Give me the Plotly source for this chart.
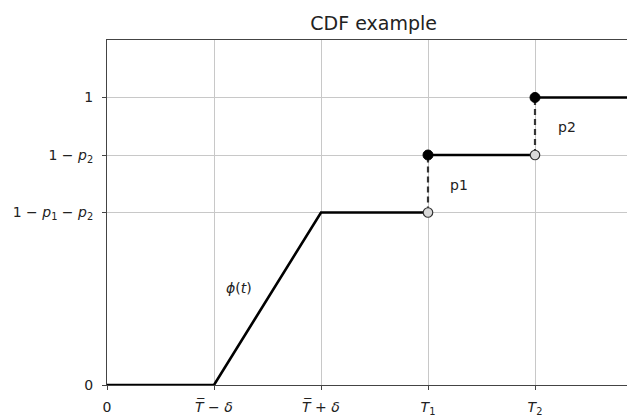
import plotly.graph_objects as go

# ---- data ----
x_tick_vals = [0, 1, 2, 3, 4]
x_tick_text = ["0", "<i>T̅</i> − <i>δ</i>", "<i>T̅</i> + <i>δ</i>", "<i>T</i><sub>1</sub>", "<i>T</i><sub>2</sub>"]
y_tick_vals = [0, 0.6, 0.8, 1.0]
y_tick_text = ["0", "1 − <i>p</i><sub>1</sub> − <i>p</i><sub>2</sub>", "1 − <i>p</i><sub>2</sub>", "1"]

ramp_x = [0, 1, 2, 3]
ramp_y = [0, 0, 0.6, 0.6]
step1_x = [3, 4]
step1_y = [0.8, 0.8]
step2_x = [4, 5]
step2_y = [1.0, 1.0]
jump_x = [3, 4]
jump_low = [0.6, 0.8]
jump_high = [0.8, 1.0]

labels_text = ["<i>ϕ</i>(<i>t</i>)", "p1", "p2"]
labels_x = [1.23, 3.29, 4.30]
labels_y = [0.337, 0.695, 0.896]

FONT = "DejaVu Sans"
OFF = 8  # page body margin

fig = go.Figure()
line_style = dict(color="black", width=2.6)
fig.add_trace(go.Scatter(x=ramp_x, y=ramp_y, mode="lines", line=line_style, showlegend=False))
fig.add_trace(go.Scatter(x=step1_x, y=step1_y, mode="lines", line=line_style, showlegend=False))
fig.add_trace(go.Scatter(x=step2_x, y=step2_y, mode="lines", line=line_style, showlegend=False))
for jx, lo, hi in zip(jump_x, jump_low, jump_high):
    fig.add_trace(go.Scatter(x=[jx, jx], y=[lo, hi], mode="lines",
                             line=dict(color="#333333", width=2.2, dash="6px,4px"),
                             showlegend=False))
fig.add_trace(go.Scatter(x=jump_x, y=jump_low, mode="markers",
                         marker=dict(size=9.5, color="#d9d9d9", line=dict(color="#333333", width=1.2)),
                         showlegend=False, cliponaxis=False))
fig.add_trace(go.Scatter(x=jump_x, y=jump_high, mode="markers",
                         marker=dict(size=10, color="black", line=dict(color="black", width=1)),
                         showlegend=False, cliponaxis=False))

for t, x, y in zip(labels_text, labels_x, labels_y):
    fig.add_annotation(x=x, y=y, text=t, showarrow=False,
                       font=dict(family=FONT, size=14, color="#222222"))

W, H = 635 - OFF, 417 - OFF
fig.update_layout(
    width=W, height=H,
    margin=dict(l=107 - OFF, r=0, t=40 - OFF, b=30, pad=0),
    paper_bgcolor="white", plot_bgcolor="white",
    font=dict(family=FONT, size=14, color="#222222"),
    title=dict(text="CDF example", x=0.505, xref="paper", y=1 - (23 - OFF) / H, yref="container",
               xanchor="center", yanchor="middle",
               font=dict(family=FONT, size=19, color="#222222")),
)
fig.update_xaxes(range=[0, 528 / 107], tickvals=x_tick_vals, ticktext=x_tick_text,
                 showgrid=True, gridcolor="#c8c8c8", gridwidth=1,
                 showline=True, linecolor="#444444", linewidth=1, mirror=True,
                 ticks="outside", ticklen=4, tickcolor="#444444", zeroline=False,
                 ticklabelstandoff=5)
fig.update_yaxes(range=[0, 1.2], tickvals=y_tick_vals, ticktext=y_tick_text,
                 showgrid=True, gridcolor="#c8c8c8", gridwidth=1,
                 showline=True, linecolor="#444444", linewidth=1, mirror=False,
                 ticks="outside", ticklen=4, tickcolor="#444444", zeroline=False,
                 ticklabelstandoff=6)

fig.write_html("out.html")
